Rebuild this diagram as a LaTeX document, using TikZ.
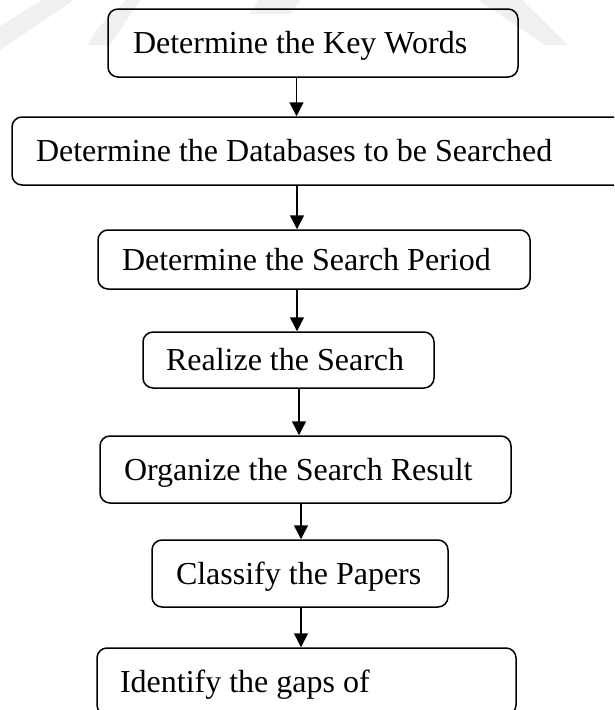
\documentclass[tikz,border=0pt]{standalone}
\usepackage{fontspec}
\setmainfont{Liberation Serif}
\usetikzlibrary{arrows.meta,calc}

\tikzset{
  flowbox/.style={draw=black, line width=1.5pt, rounded corners=10pt,
    inner ysep=0pt, text height=21.4pt, text depth=0pt,
    font=\fontsize{32}{38}\selectfont},
  flowarrow/.style={draw=black, line width=1.5pt,
    -{Triangle[length=14pt,width=14pt]}},
  faint/.style={fill=black!6, draw=none}
}

% left-aligned label of fixed width: #1 width, #2 text
\newcommand{\boxlabel}[2]{\makebox[#1][l]{#2}}

\begin{document}
\begin{tikzpicture}[x=1pt, y=-1pt]
  \useasboundingbox (0,0) rectangle (614,710);
  \clip (0,0) rectangle (614,710);
  \fill[white] (0,0) rectangle (614,710);

  % light background marks along the top edge
  \fill[faint] (0,50) -- (0,26) -- (42,0) -- (74,0) -- cycle;
  \fill[faint] (88,45) -- (96,30) -- (126,0) -- (140,0) -- (110,45) -- cycle;
  \fill[faint] (250,14) -- (258,0) -- (300,0) -- (290,14) -- cycle;
  \fill[faint] (478,0) -- (522,0) -- (568,45) -- (545,45) -- cycle;

  % process steps
  \node[flowbox, inner xsep=25pt, minimum height=68pt]
    (keywords) at (313,43) {\boxlabel{360pt}{Determine the Key Words}};
  \node[flowbox, inner xsep=24pt, minimum height=68pt]
    (databases) at (318.5,151) {\boxlabel{565pt}{Determine the Databases to be Searched}};
  \node[flowbox, inner xsep=24pt, minimum height=59pt]
    (period) at (314,259.5) {\boxlabel{384pt}{Determine the Search Period}};
  \node[flowbox, inner xsep=23pt, minimum height=56pt]
    (realize) at (288.5,360) {\boxlabel{245pt}{Realize the Search}};
  \node[flowbox, inner xsep=24pt, minimum height=67pt]
    (organize) at (305.5,469.5) {\boxlabel{363pt}{Organize the Search Result}};
  \node[flowbox, inner xsep=24pt, minimum height=67pt]
    (classify) at (300,573.5) {\boxlabel{248pt}{Classify the Papers}};
  \node[flowbox, inner xsep=23pt, minimum height=67pt]
    (gaps) at (306.5,681.5) {\boxlabel{373pt}{Identify the gaps of}};

  % connectors
  \draw[flowarrow] (296.5,0 |- keywords.south) -- (296.5,0 |- databases.north);
  \draw[flowarrow] (297,0 |- databases.south) -- (297,0 |- period.north);
  \draw[flowarrow] (297,0 |- period.south) -- (297,0 |- realize.north);
  \draw[flowarrow] (299,0 |- realize.south) -- (299,0 |- organize.north);
  \draw[flowarrow] (301,0 |- organize.south) -- (301,0 |- classify.north);
  \draw[flowarrow] (301,0 |- classify.south) -- (301,0 |- gaps.north);
\end{tikzpicture}
\end{document}
